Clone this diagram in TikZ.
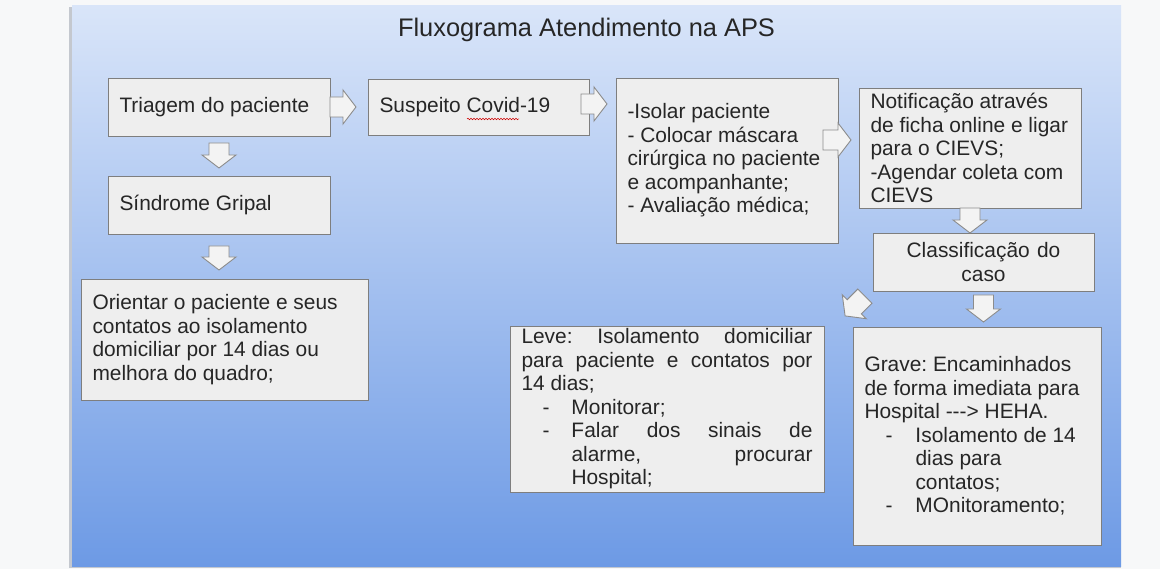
\documentclass[tikz,border=0pt]{standalone}
\usepackage{fontspec}
\setmainfont{Liberation Sans}
\usetikzlibrary{decorations.pathmorphing}
\definecolor{outerbg}{HTML}{F7F8F9}
\definecolor{slideshadow}{HTML}{C4C8CF}
\definecolor{slidetop}{HTML}{D9E5F9}
\definecolor{slidebot}{HTML}{6D9AE5}
\definecolor{boxfill}{HTML}{EEEEEE}
\definecolor{boxline}{HTML}{7E7E7E}
\definecolor{arrfill}{HTML}{F3F3F3}
\definecolor{arrline}{HTML}{8C8C8C}
\definecolor{txt}{HTML}{262626}
% block arrow: name, centre, angle, length
\newcommand{\blockarr}[4]{%
  \coordinate (#1) at #2;
  \draw[arrstyle, shift={(#1)}, rotate=#3]
    (-#4/2,-10) -- (#4/2-13,-10) -- (#4/2-13,-17) -- (#4/2,0) -- (#4/2-13,17)
    -- (#4/2-13,10) -- (-#4/2,10) -- cycle;}
\begin{document}
\begin{tikzpicture}[x=1pt,y=-1pt,
  box/.style={draw=boxline, fill=boxfill, line width=0.9pt, inner xsep=11.5pt, inner ysep=0pt,
    align=left, text=txt, font=\fontsize{20.9}{23.5}\selectfont\frenchspacing,
    execute at begin node={\spaceskip=0pt\xspaceskip=0pt}},
  arrstyle/.style={draw=arrline, fill=arrfill, line width=0.9pt, line join=miter}
]
\useasboundingbox (0,0) rectangle (1160,569);
\fill[outerbg] (0,0) rectangle (1160,569);
\fill[slideshadow] (69,7) rectangle (1121,568);
\shade[top color=slidetop, bottom color=slidebot] (72,6) rectangle (1121,566);

\node[font=\fontsize{25.4}{30}\selectfont, text=txt, anchor=base] (title) at (586.5,37) {Fluxograma Atendimento na APS};

\node[box, text width=199pt, minimum height=58pt] (tri) at (219,107) {Triagem do paciente};
\node[box, text width=198pt, minimum height=56pt] (sus) at (478.5,107) {Suspeito Covid-19};
\node[box, text width=199pt, minimum height=165pt] (iso) at (727,160.5) {-Isolar paciente\\- Colocar máscara\\cirúrgica no paciente\\e acompanhante;\\- Avaliação médica;};
\node[box, text width=199pt, minimum height=120pt] (noti) at (970,148) {Notificação através\\de ficha online e ligar\\para o CIEVS;\\-Agendar coleta com\\CIEVS};
\node[box, align=center, text width=198pt, minimum height=58pt] (cls) at (983.5,262) {Classificação do\\caso};
\node[box, text width=199pt, minimum height=58pt] (sin) at (219,205) {Síndrome Gripal};
\node[box, text width=264pt, minimum height=121pt] (ori) at (224.5,339.5) {Orientar o paciente e seus\\contatos ao isolamento\\domiciliar por 14 dias ou\\melhora do quadro;};
\node[box, text width=291pt, minimum height=166pt] (leve) at (667,409) {\makebox[\linewidth][s]{Leve: Isolamento domiciliar}\\
\makebox[\linewidth][s]{para paciente e contatos por}\\
14 dias;\\
\hspace*{21pt}\makebox[29pt][l]{-}Monitorar;\\
\hspace*{21pt}\makebox[29pt][l]{-}\makebox[241pt][s]{Falar dos sinais de}\\
\hspace*{50pt}\makebox[241pt][s]{alarme, procurar}\\
\hspace*{50pt}Hospital;};
\node[box, text width=225pt, minimum height=218pt] (grave) at (977,436) {Grave: Encaminhados\\
de forma imediata para\\
Hospital -{}-{}-> HEHA.\\
\hspace*{21pt}\makebox[30pt][l]{-}Isolamento de 14\\
\hspace*{51pt}dias para\\
\hspace*{51pt}contatos;\\
\hspace*{21pt}\makebox[30pt][l]{-}MOnitoramento;};

\draw[red!80!black, line width=0.5pt, decorate, decoration={snake, amplitude=0.8pt, segment length=3pt}] (467,119) -- (519,119);

\blockarr{a1}{(343,107)}{0}{26}
\blockarr{a2}{(219,155.5)}{-90}{25}
\blockarr{a3}{(594,104)}{0}{26}
\blockarr{a4}{(837,140)}{0}{28}
\blockarr{a5}{(970,220.5)}{-90}{25}
\blockarr{a6}{(983.5,308.5)}{-90}{27}
\blockarr{a7}{(855,306)}{225}{28}
\blockarr{a8}{(219,258)}{-90}{24}
\end{tikzpicture}
\end{document}
